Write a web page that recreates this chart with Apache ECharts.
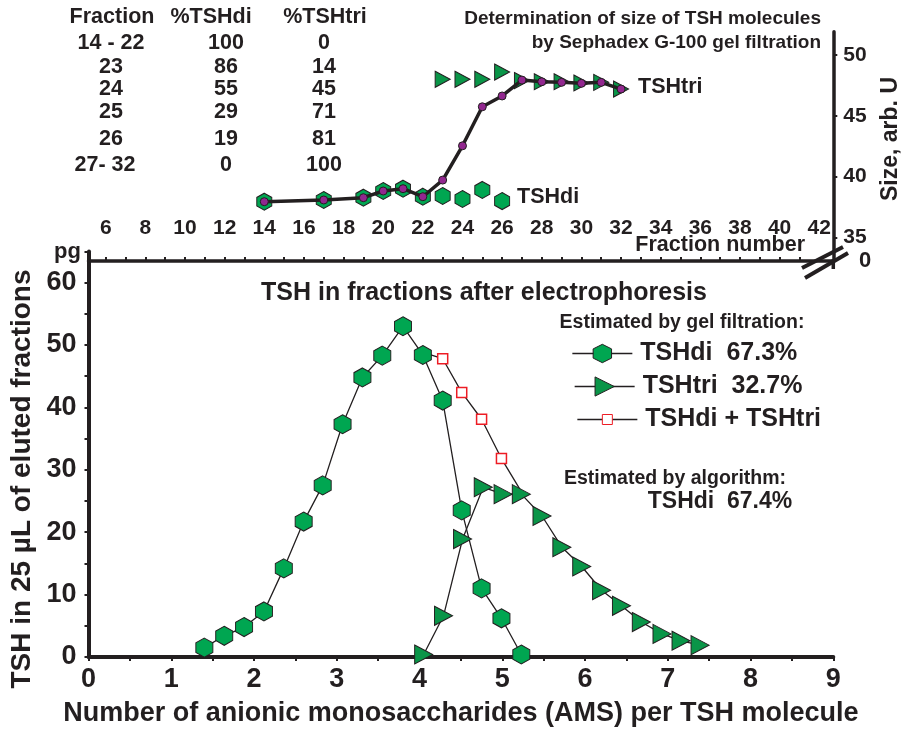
<!DOCTYPE html>
<html>
<head>
<meta charset="utf-8">
<script src="https://cdn.jsdelivr.net/npm/echarts@6/dist/echarts.min.js"></script>
<style>
  html, body { margin: 0; padding: 0; background: #fff; }
  #chart { width: 902px; height: 732px; }
</style>
</head>
<body>
<div id="chart"></div>
<script>
// TSH size (gel filtration) + TSH in fractions after electrophoresis

const FONT = '"Liberation Sans", Arial, Helvetica, sans-serif';
const INK = '#231f20';
const GREEN = '#00a651';
const GREEN_DARK = '#0a9548';
const PURPLE = '#92278f';
const RED = '#ed1c24';

// --- upper panel: gel filtration (fraction number vs size, arb. U)
const sizeFractions = [14, 17, 19, 20, 21, 22, 23, 24, 25, 26, 27, 28, 29, 30, 31, 32];
const sizeValues = [37.93, 38.07, 38.26, 38.81, 39.0, 38.34, 39.71, 42.53, 45.74, 46.63, 47.94, 47.8, 47.75, 47.67, 47.75, 47.2];
const gelDiFractions = [14, 17, 19, 20, 21, 22, 23, 24, 25, 26];
const gelDiValues = [37.93, 38.07, 38.26, 38.81, 39.0, 38.34, 38.4, 38.15, 38.9, 37.98];
const gelTriFractions = [23, 24, 25, 26, 27, 28, 29, 30, 31, 32];
const gelTriValues = [48.0, 48.0, 48.0, 48.6, 47.9, 47.8, 47.8, 47.7, 47.75, 47.2];
const fractionLabels = [6, 8, 10, 12, 14, 16, 18, 20, 22, 24, 26, 28, 30, 32, 34, 36, 38, 40, 42];
const sizeLabels = [35, 40, 45, 50];

// table in the upper-left corner
const tableHeader = ['Fraction', '%TSHdi', '%TSHtri'];
const tableFractions = ['14 - 22', '23', '24', '25', '26', '27- 32'];
const tablePctDi = ['100', '86', '55', '29', '19', '0'];
const tablePctTri = ['0', '14', '45', '71', '81', '100'];

// --- lower panel: TSH (pg) vs AMS per molecule
const diAms = [1.40, 1.64, 1.88, 2.12, 2.36, 2.60, 2.83, 3.07, 3.31, 3.55, 3.80, 4.04, 4.28, 4.51, 4.75, 4.99, 5.23];
const diTsh = [1.5, 3.4, 4.8, 7.3, 14.2, 21.7, 27.5, 37.3, 44.8, 48.3, 53.0, 48.4, 41.1, 23.5, 11.0, 6.2, 0.4];
const triAms = [4.05, 4.29, 4.52, 4.77, 5.01, 5.23, 5.48, 5.72, 5.96, 6.20, 6.44, 6.68, 6.93, 7.16, 7.39];
const triTsh = [0.4, 6.6, 18.9, 27.2, 26.1, 26.1, 22.6, 17.6, 14.5, 10.7, 8.2, 5.6, 3.7, 2.6, 1.9];
const sumAms = [4.04, 4.28, 4.51, 4.75, 4.99, 5.23];
const sumTsh = [48.8, 47.8, 42.4, 38.1, 31.8, 26.5];
const tshLabels = [0, 10, 20, 30, 40, 50, 60];

const legendNames = ['TSHdi', 'TSHtri', 'TSHdi + TSHtri'];
const legendTexts = ['TSHdi  67.3%', 'TSHtri  32.7%', 'TSHdi + TSHtri'];

const HEX = 'path://M0.866,0 L1.732,0.5 L1.732,1.5 L0.866,2 L0,1.5 L0,0.5 Z';
const TRI = 'path://M0,0 L1,0.5 L0,1 Z';

function pairs(xs, ys) {
    return xs.map((x, i) => [x, ys[i]]);
}

function steps(from, to, step) {
    const out = [];
    for (let v = from; v <= to + 1e-9; v += step) out.push(+v.toFixed(2));
    return out;
}

function bold(size) {
    return 'bold ' + size + 'px ' + FONT;
}

function txt(text, x, y, size, align, extra) {
    return Object.assign({
        type: 'text', x: x, y: y, silent: true,
        style: { text: text, font: bold(size), fill: INK, textAlign: align || 'center', textVerticalAlign: 'middle' }
    }, extra || {});
}

const chart = echarts.init(document.getElementById('chart'));

// table texts
const tableRows = [43, 67.5, 89.5, 112.5, 139, 165];
const graphics = [
    txt(tableHeader[0], 112, 17, 21.5),
    txt(tableHeader[1], 211, 17, 21.5),
    txt(tableHeader[2], 325, 17, 21.5)
];
tableRows.forEach((y, i) => {
    graphics.push(txt(tableFractions[i], i === 5 ? 105 : 111, y, 21.5));
    graphics.push(txt(tablePctDi[i], 226, y, 21.5));
    graphics.push(txt(tablePctTri[i], 324, y, 21.5));
});

graphics.push(
    txt('Determination of size of TSH molecules', 821, 19, 19, 'right'),
    txt('by Sephadex G-100 gel filtration', 821, 43, 19, 'right'),
    txt('TSHtri', 638, 87, 21.5, 'left'),
    txt('TSHdi', 517, 197, 21.5, 'left'),
    txt('Fraction number', 805, 245, 21.5, 'right'),
    txt('Size, arb. U', 891, 139, 23, 'center', { rotation: Math.PI / 2 }),
    txt('0', 865, 261, 22, 'center'),
    txt('pg', 81, 252, 22, 'right'),
    txt('TSH in 25 µL of eluted fractions', 22, 479, 28, 'center', { rotation: Math.PI / 2 }),
    txt('TSH in fractions after electrophoresis', 484, 293, 25),
    txt('Estimated by gel filtration:', 682, 323, 19.5),
    txt('Estimated by algorithm:', 675, 479, 19.5),
    txt('TSHdi  67.4%', 720, 502, 23),
    // axis break on the right
    { type: 'line', silent: true, shape: { x1: 833.3, y1: 259, x2: 833.3, y2: 269 }, style: { stroke: INK, lineWidth: 3.5 } },
    { type: 'line', silent: true, shape: { x1: 802, y1: 268, x2: 843, y2: 247 }, style: { stroke: INK, lineWidth: 4 } },
    { type: 'line', silent: true, shape: { x1: 805, y1: 278, x2: 848, y2: 253 }, style: { stroke: INK, lineWidth: 4 } }
);

const labelStyle = (size) => ({ fontSize: size, fontWeight: 'bold', fontFamily: FONT, color: INK });

function legendBox(name, left, top, itemHeight) {
    return {
        data: [name],
        left: left, top: top, padding: 0,
        orient: 'vertical',
        itemWidth: 60, itemHeight: itemHeight,
        selectedMode: false,
        itemStyle: { borderWidth: 1 },
        lineStyle: { width: 1.3 },
        formatter: (n) => legendTexts[legendNames.indexOf(n)],
        textStyle: { fontSize: 25, fontWeight: 'bold', fontFamily: FONT, color: INK, padding: [0, 0, 0, 3] }
    };
}

const option = {
    animation: false,
    backgroundColor: '#fff',
    grid: [
        { left: 88.5, right: 68.7, top: 31.7, bottom: 471 },
        { left: 88.5, right: 68.7, top: 251.4, bottom: 73.7 }
    ],
    xAxis: [
        {
            gridIndex: 0, type: 'value', min: 5.13, max: 42.71, position: 'bottom',
            axisLine: { show: true, onZero: false, lineStyle: { color: INK, width: 3.5 } },
            axisTick: { show: true, inside: true, length: 4, customValues: steps(6, 41, 1), lineStyle: { color: INK, width: 2 } },
            axisLabel: Object.assign({ inside: true, margin: 22, customValues: fractionLabels }, labelStyle(21)),
            splitLine: { show: false }
        },
        {
            gridIndex: 1, type: 'value', min: 0, max: 9, interval: 1,
            axisLine: { show: true, onZero: false, lineStyle: { color: INK, width: 4 } },
            axisTick: { show: true, length: 4, customValues: steps(0, 9, 0.5), lineStyle: { color: INK, width: 2 } },
            axisLabel: Object.assign({ margin: 9 }, labelStyle(27)),
            splitLine: { show: false },
            name: 'Number of anionic monosaccharides (AMS) per TSH molecule',
            nameLocation: 'middle', nameGap: 43,
            nameTextStyle: labelStyle(27)
        }
    ],
    yAxis: [
        {
            gridIndex: 0, type: 'value', min: 33.05, max: 51.92, position: 'right',
            axisLine: { show: true, onZero: false, lineStyle: { color: INK, width: 3.5 } },
            axisTick: { show: true, length: 4, customValues: sizeLabels, lineStyle: { color: INK, width: 2 } },
            axisLabel: Object.assign({ margin: 10, customValues: sizeLabels }, labelStyle(21)),
            splitLine: { show: false }
        },
        {
            gridIndex: 1, type: 'value', min: 0, max: 65,
            axisLine: { show: true, onZero: false, lineStyle: { color: INK, width: 4 } },
            axisTick: { show: true, length: 4, customValues: steps(0, 65, 5), lineStyle: { color: INK, width: 2 } },
            axisLabel: Object.assign({ margin: 12, customValues: tshLabels }, labelStyle(27)),
            splitLine: { show: false }
        }
    ],
    legend: [
        legendBox(legendNames[0], 571.7, 341, 23),
        legendBox(legendNames[1], 574, 374, 24),
        legendBox(legendNames[2], 576.7, 407, 12.5)
    ],
    graphic: graphics,
    series: [
        // upper panel
        {
            name: 'TSHdi (gel)', type: 'scatter', xAxisIndex: 0, yAxisIndex: 0,
            data: pairs(gelDiFractions, gelDiValues),
            symbol: HEX, symbolSize: [15, 17], z: 2,
            itemStyle: { color: GREEN, borderColor: INK, borderWidth: 1, opacity: 1 }
        },
        {
            name: 'TSHtri (gel)', type: 'scatter', xAxisIndex: 0, yAxisIndex: 0,
            data: pairs(gelTriFractions, gelTriValues),
            symbol: TRI, symbolSize: [15, 16], z: 2,
            itemStyle: { color: GREEN_DARK, borderColor: INK, borderWidth: 1, opacity: 1 }
        },
        {
            name: 'Size', type: 'line', xAxisIndex: 0, yAxisIndex: 0,
            data: pairs(sizeFractions, sizeValues),
            symbol: 'circle', symbolSize: 8, z: 3,
            lineStyle: { color: INK, width: 3.5 },
            itemStyle: { color: PURPLE, borderColor: INK, borderWidth: 1 }
        },
        // lower panel
        {
            name: legendNames[0], type: 'line', xAxisIndex: 1, yAxisIndex: 1,
            data: pairs(diAms, diTsh),
            symbol: HEX, symbolSize: [17, 19], z: 4,
            lineStyle: { color: INK, width: 1.3 },
            itemStyle: { color: GREEN, borderColor: INK, borderWidth: 1 }
        },
        {
            name: legendNames[1], type: 'line', xAxisIndex: 1, yAxisIndex: 1,
            data: pairs(triAms, triTsh),
            symbol: TRI, symbolSize: [18, 19], z: 5,
            lineStyle: { color: INK, width: 1.3 },
            itemStyle: { color: GREEN_DARK, borderColor: INK, borderWidth: 1 }
        },
        {
            name: legendNames[2], type: 'line', xAxisIndex: 1, yAxisIndex: 1,
            data: pairs(sumAms, sumTsh).map((p, i, all) => ({
                value: p,
                symbol: (i === 0 || i === all.length - 1) ? 'none' : 'rect'
            })),
            symbol: 'rect', symbolSize: 10, z: 3,
            lineStyle: { color: INK, width: 1.3 },
            itemStyle: { color: '#fff', borderColor: RED, borderWidth: 1.5 }
        }
    ]
};

chart.setOption(option);

window.addEventListener('resize', function() {
    chart.resize();
});
</script>
</body>
</html>
